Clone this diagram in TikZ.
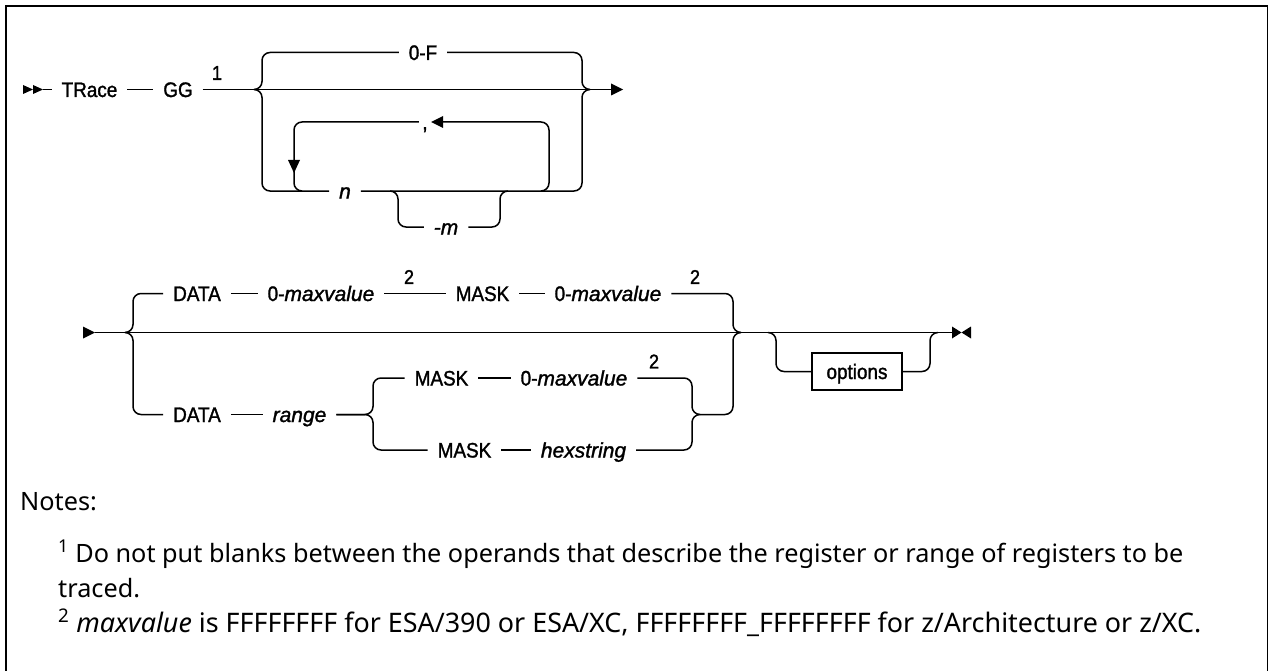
\documentclass[tikz,border=0pt]{standalone}
\usepackage{fontspec}
\newfontfamily\rrup[FakeStretch=0.9,FakeBold=1.4]{Liberation Sans}
\newfontfamily\rrit[FakeBold=1.4]{Liberation Sans}
\newfontfamily\notefam{Noto Sans}
\newcommand\rrfont{\rrup\fontsize{21pt}{24pt}\selectfont}
\newcommand\ri[1]{{\rrit\itshape #1}}
\newcommand\supnumfont{\rrup\fontsize{20pt}{22pt}\selectfont}
\newlength\notelenA
\newlength\notelenB
\newsavebox\noteboxA
\newsavebox\noteboxB
\newcommand\lineone{\textsuperscript{1} Do not put blanks between the operands that describe the register or range of registers to be}
\newcommand\linetwo{\textsuperscript{2} \textit{maxvalue} is FFFFFFFF for ESA/390 or ESA/XC, FFFFFFFF\_FFFFFFFF for z/Architecture or z/XC.}
\begin{document}
\sbox\noteboxA{\notefam\fontsize{10pt}{12pt}\selectfont\lineone}%
\sbox\noteboxB{\notefam\fontsize{10pt}{12pt}\selectfont\linetwo}%
\setlength\notelenA{\wd\noteboxA}%
\setlength\notelenB{\wd\noteboxB}%
\pgfmathsetmacro\nfsA{10*1126/\notelenA}%
\pgfmathsetmacro\nfsB{10*1144/\notelenB}%
\def\notefontA{\notefam\fontsize{\nfsA pt}{\nfsA pt}\selectfont}%
\def\notefontB{\notefam\fontsize{\nfsB pt}{\nfsB pt}\selectfont}%
\begin{tikzpicture}[x=1pt,y=-1pt,
  track/.style={line width=1.5pt},
  rc/.style={line width=1.5pt, rounded corners=8pt},
  rr/.style={font=\rrfont, inner sep=0pt, outer xsep=10pt, outer ysep=0pt, text height=15pt, text depth=0pt},
  supnum/.style={font=\supnumfont, inner sep=0pt},
  optbox/.style={draw, line width=1.6pt, font=\rrfont, minimum width=90pt, minimum height=37pt, inner sep=0pt, text height=15pt, text depth=0pt},
  note/.style={inner sep=0pt, anchor=base west}
]
\useasboundingbox (0,0) rectangle (1273,671);
\fill[white] (0,0) rectangle (1273,671);
% frame
\draw[line width=2.4pt] (6.2,671) -- (6.2,6.2) -- (1268,6.2);
\draw[line width=1.5pt] (1267.5,6.2) -- (1267.5,671);

% ---------------- Row 1 ----------------
\coordinate (st1) at (43,89.5);
\fill (23,85)--(33,89.5)--(23,94)--cycle;
\fill (33,85)--(43,89.5)--(33,94)--cycle;
\node[rr] (trace) at (89.5,89.5) {TRace};
\node[rr] (gg) at (178,89.5) {GG};
\node[supnum] (sup1) at (217,73) {1};
\node[rr] (zf) at (423,52.5) {0-F};
\node[rr] (nn) at (345,191) {\ri{n}};
\node[rr] (mm) at (446,227) {\ri{-m}};
\node[rr, outer xsep=3.5pt] (cm) at (425,122) {,};
\coordinate (e1) at (611,89.5);
\draw[track] (st1) -- (trace);
\draw[track] (trace) -- (gg);
\draw[track] (gg) -- (e1);
\fill (611,83.5)--(623,89.5)--(611,95.5)--cycle;
% forks
\draw[rc] (254,89.5) -- (262,89.5) -- (262,52.5) -- (zf);
\draw[rc] (254,89.5) -- (262,89.5) -- (262,191) -- (nn);
\draw[rc] (zf) -- (582,52.5) -- (582,89.5) -- (590,89.5);
\draw[rc] (nn) -- (582,191) -- (582,89.5) -- (590,89.5);
% -m
\draw[rc] (390,191) -- (398,191) -- (398,227) -- (mm);
\draw[rc] (mm) -- (500,227) -- (500,191) -- (508,191);
% comma loop
\coordinate (ca) at (443,122);
\draw[rc] (541,191) -- (549,191) -- (549,122) -- (ca);
\fill (443,116)--(431,122)--(443,128)--cycle;
\draw[rc] (cm) -- (294,122) -- (294,191) -- (302,191);
\fill (288,160)--(300,160)--(294,173)--cycle;

% ---------------- Row 2 ----------------
\coordinate (st2) at (95,332.5);
\coordinate (e2) at (952,332.5);
\fill (83,326.5)--(95,332.5)--(83,338.5)--cycle;
\draw[track] (st2) -- (e2);
\fill (952,326.5)--(961.5,332.5)--(952,338.5)--cycle;
\fill (971,326.5)--(961.5,332.5)--(971,338.5)--cycle;

\node[rr] (d1) at (197,293.5) {DATA};
\node[rr] (mv1) at (321,293.5) {0-\ri{maxvalue}};
\node[supnum] (sup2a) at (409,277) {2};
\node[rr] (mk1) at (482.5,293.5) {MASK};
\node[rr] (mv2) at (608,293.5) {0-\ri{maxvalue}};
\node[supnum] (sup2b) at (695,277) {2};
\node[rr] (d2) at (197,414.5) {DATA};
\node[rr] (rg) at (299.5,414.5) {\ri{range}};
\node[rr] (mk2) at (441.5,378) {MASK};
\node[rr] (mv3) at (574,378) {0-\ri{maxvalue}};
\node[supnum] (sup2c) at (654,361.5) {2};
\node[rr] (mk3) at (464.5,450) {MASK};
\node[rr] (hx) at (583.5,450) {\ri{hexstring}};
\node[optbox] (opt) at (857,371.5) {options};

\draw[rc] (125,332.5) -- (133,332.5) -- (133,293.5) -- (d1);
\draw[rc] (125,332.5) -- (133,332.5) -- (133,414.5) -- (d2);
\draw[track] (d1) -- (mv1);
\draw[track] (mv1) -- (mk1);
\draw[track] (mk1) -- (mv2);
\draw[rc] (mv2) -- (733,293.5) -- (733,332.5) -- (741,332.5);
\draw[track] (d2) -- (rg);
\draw[rc] (rg) -- (373,414.5) -- (373,378) -- (mk2);
\draw[rc] (rg) -- (373,414.5) -- (373,450) -- (mk3);
\draw[track] (mk2) -- (mv3);
\draw[track] (mk3) -- (hx);
\coordinate (ij) at (700,414.5);
\draw[rc] (mv3) -- (692,378) -- (692,414.5) -- (ij);
\draw[rc] (hx) -- (692,450) -- (692,414.5) -- (ij);
\draw[rc] (ij) -- (733,414.5) -- (733,332.5) -- (741,332.5);
\draw[rc] (768,332.5) -- (776,332.5) -- (776,371.5) -- (opt);
\draw[rc] (opt) -- (930,371.5) -- (930,332.5) -- (938,332.5);

% ---------------- Notes ----------------
\node[note, font=\notefontA] (notes) at (20,510) {Notes:};
\node[note, font=\notefontA] (l1) at (58,562) {\lineone};
\node[note, font=\notefontA] (l2) at (58,597) {traced.};
\node[note, font=\notefontB] (l3) at (58,632) {\linetwo};
\end{tikzpicture}
\end{document}
